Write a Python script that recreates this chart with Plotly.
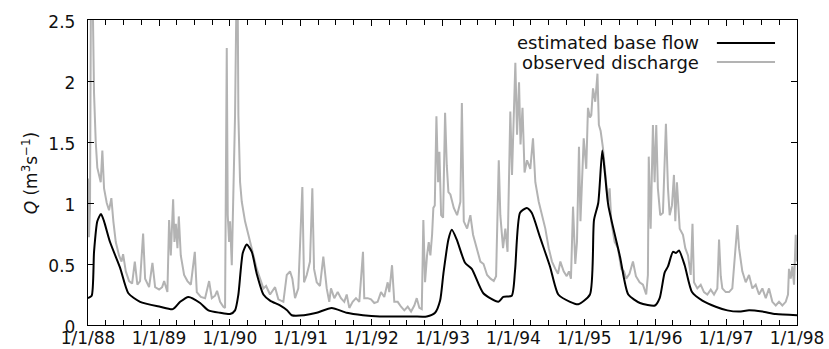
import pandas as pd
import plotly.graph_objects as go

# Observed discharge, Q in m3/s, sampled at decimal-year times
obs_t = [
    1988.000, 1988.014, 1988.028, 1988.042, 1988.063, 1988.085, 1988.109, 1988.131, 1988.179, 1988.202,
    1988.226, 1988.264, 1988.296, 1988.329, 1988.357, 1988.391, 1988.437, 1988.472, 1988.494, 1988.532,
    1988.578, 1988.621, 1988.659, 1988.695, 1988.733, 1988.776, 1988.804, 1988.860, 1988.907, 1988.945,
    1989.001, 1989.044, 1989.072, 1989.118, 1989.142, 1989.166, 1989.199, 1989.217, 1989.237, 1989.260,
    1989.279, 1989.307, 1989.354, 1989.401, 1989.449, 1989.505, 1989.533, 1989.590, 1989.650, 1989.707,
    1989.745, 1989.791, 1989.819, 1989.862, 1989.908, 1989.932, 1989.956, 1989.970, 1989.989, 1990.003,
    1990.027, 1990.049, 1990.073, 1990.095, 1990.109, 1990.120, 1990.144, 1990.168, 1990.214, 1990.261,
    1990.309, 1990.379, 1990.426, 1990.473, 1990.511, 1990.567, 1990.638, 1990.684, 1990.755, 1990.803,
    1990.849, 1990.882, 1990.920, 1990.966, 1991.023, 1991.047, 1991.085, 1991.131, 1991.164, 1991.188,
    1991.226, 1991.272, 1991.319, 1991.367, 1991.403, 1991.427, 1991.474, 1991.522, 1991.568, 1991.615,
    1991.649, 1991.686, 1991.733, 1991.780, 1991.827, 1991.879, 1991.897, 1991.945, 1991.992, 1992.038,
    1992.086, 1992.133, 1992.179, 1992.227, 1992.250, 1992.288, 1992.320, 1992.368, 1992.415, 1992.461,
    1992.509, 1992.556, 1992.602, 1992.636, 1992.673, 1992.707, 1992.729, 1992.753, 1992.781, 1992.805,
    1992.828, 1992.852, 1992.870, 1992.890, 1992.913, 1992.937, 1992.955, 1992.979, 1993.007, 1993.035,
    1993.059, 1993.082, 1993.110, 1993.158, 1993.205, 1993.251, 1993.272, 1993.299, 1993.346, 1993.392,
    1993.430, 1993.487, 1993.533, 1993.578, 1993.628, 1993.677, 1993.722, 1993.755, 1993.779, 1993.793,
    1993.815, 1993.853, 1993.886, 1993.917, 1993.956, 1993.980, 1994.027, 1994.051, 1994.079, 1994.100,
    1994.128, 1994.157, 1994.192, 1994.238, 1994.276, 1994.309, 1994.357, 1994.403, 1994.450, 1994.498,
    1994.544, 1994.591, 1994.629, 1994.662, 1994.709, 1994.752, 1994.784, 1994.812, 1994.841, 1994.873,
    1994.897, 1994.925, 1994.946, 1994.992, 1995.028, 1995.052, 1995.080, 1995.099, 1995.123, 1995.155,
    1995.186, 1995.206, 1995.231, 1995.264, 1995.296, 1995.334, 1995.358, 1995.381, 1995.429, 1995.475,
    1995.522, 1995.560, 1995.592, 1995.638, 1995.687, 1995.729, 1995.781, 1995.828, 1995.874, 1995.898,
    1995.910, 1995.937, 1995.969, 1995.993, 1996.016, 1996.039, 1996.072, 1996.110, 1996.152, 1996.181,
    1996.205, 1996.237, 1996.265, 1996.284, 1996.307, 1996.346, 1996.392, 1996.425, 1996.463, 1996.501,
    1996.526, 1996.547, 1996.594, 1996.642, 1996.688, 1996.735, 1996.783, 1996.829, 1996.876, 1996.900,
    1996.924, 1996.946, 1996.994, 1997.041, 1997.087, 1997.135, 1997.158, 1997.182, 1997.228, 1997.276,
    1997.323, 1997.370, 1997.417, 1997.464, 1997.511, 1997.559, 1997.605, 1997.652, 1997.700, 1997.746,
    1997.793, 1997.841, 1997.873, 1997.887, 1997.911, 1997.934, 1997.958, 1997.982, 1998.000,
]
obs_q = [
    1.20, 0.72, 0.95, 2.80, 2.80, 1.90, 1.50, 1.29, 1.17, 1.43,
    1.12, 1.00, 0.94, 1.04, 0.85, 0.68, 0.57, 0.52, 0.58, 0.44,
    0.36, 0.34, 0.52, 0.33, 0.36, 0.75, 0.38, 0.31, 0.51, 0.31,
    0.29, 0.31, 0.36, 0.27, 0.86, 0.57, 1.03, 0.68, 0.83, 0.63,
    0.89, 0.57, 0.41, 0.36, 0.33, 0.60, 0.27, 0.23, 0.22, 0.36,
    0.22, 0.24, 0.28, 0.19, 0.15, 0.14, 2.27, 0.90, 0.68, 0.85,
    0.49, 1.01, 1.72, 2.80, 2.80, 1.72, 1.17, 1.01, 0.85, 0.74,
    0.63, 0.46, 0.38, 0.30, 0.32, 0.25, 0.31, 0.21, 0.19, 0.41,
    0.44, 0.38, 0.22, 0.30, 1.13, 0.35, 0.41, 0.52, 1.12, 0.46,
    0.35, 0.32, 0.56, 0.30, 0.19, 0.30, 0.22, 0.27, 0.22, 0.19,
    0.25, 0.14, 0.19, 0.22, 0.19, 0.60, 0.22, 0.22, 0.21, 0.18,
    0.19, 0.27, 0.23, 0.35, 0.27, 0.49, 0.19, 0.19, 0.15, 0.12,
    0.15, 0.11, 0.16, 0.22, 0.14, 0.13, 0.86, 0.35, 0.57, 0.68,
    0.57, 0.74, 0.96, 0.98, 1.71, 1.17, 1.42, 0.90, 0.88, 1.74,
    1.31, 1.09, 1.07, 0.96, 0.90, 1.01, 1.82, 0.85, 0.79, 0.90,
    0.74, 0.63, 0.52, 0.50, 0.41, 0.38, 0.36, 0.40, 1.01, 1.35,
    0.90, 0.63, 0.79, 0.60, 1.75, 1.23, 2.15, 1.56, 1.99, 1.48,
    1.78, 1.25, 1.35, 1.28, 1.53, 1.17, 1.01, 0.90, 0.79, 0.63,
    0.52, 0.46, 0.42, 0.52, 0.44, 0.40, 0.44, 0.38, 0.97, 0.50,
    0.68, 1.46, 0.85, 1.53, 1.28, 1.78, 1.70, 1.72, 1.94, 1.83,
    2.06, 1.64, 1.59, 1.45, 1.23, 1.01, 1.12, 0.85, 0.68, 0.63,
    0.46, 0.44, 0.38, 0.42, 0.52, 0.40, 0.35, 0.33, 0.25, 0.41,
    1.38, 0.79, 1.64, 1.17, 1.64, 1.12, 0.90, 0.92, 1.65, 1.12,
    0.90, 0.98, 1.23, 0.85, 1.17, 0.79, 0.74, 0.63, 0.57, 0.41,
    0.83, 0.35, 0.30, 0.33, 0.27, 0.25, 0.29, 0.25, 0.30, 0.70,
    0.40, 0.30, 0.27, 0.27, 0.30, 0.63, 0.82, 0.63, 0.44, 0.35,
    0.41, 0.30, 0.33, 0.25, 0.30, 0.22, 0.30, 0.19, 0.16, 0.19,
    0.16, 0.19, 0.25, 0.46, 0.38, 0.48, 0.33, 0.74, 0.52,
]

# Estimated base flow, Q in m3/s
base_t = [
    1988.000, 1988.052, 1988.085, 1988.131, 1988.183, 1988.226, 1988.310, 1988.451, 1988.568, 1988.733,
    1989.015, 1989.195, 1989.298, 1989.415, 1989.580, 1989.697, 1989.862, 1990.003, 1990.073, 1990.120,
    1990.182, 1990.238, 1990.309, 1990.379, 1990.473, 1990.567, 1990.708, 1990.807, 1990.873, 1991.047,
    1991.226, 1991.437, 1991.649, 1991.879, 1992.118, 1992.584, 1992.777, 1992.894, 1992.965, 1993.011,
    1993.082, 1993.130, 1993.200, 1993.317, 1993.412, 1993.575, 1993.787, 1993.857, 1993.976, 1994.023,
    1994.093, 1994.188, 1994.258, 1994.375, 1994.516, 1994.633, 1994.799, 1994.915, 1995.080, 1995.137,
    1995.197, 1995.254, 1995.292, 1995.339, 1995.504, 1995.621, 1995.786, 1995.998, 1996.064, 1996.134,
    1996.181, 1996.251, 1996.293, 1996.336, 1996.416, 1996.519, 1996.665, 1996.853, 1997.017, 1997.182,
    1997.323, 1997.511, 1997.700, 1998.000,
]
base_q = [
    0.22, 0.24, 0.60, 0.85, 0.91, 0.85, 0.68, 0.47, 0.26, 0.19,
    0.15, 0.13, 0.19, 0.23, 0.18, 0.12, 0.10, 0.09, 0.12, 0.25,
    0.59, 0.66, 0.60, 0.42, 0.25, 0.20, 0.16, 0.12, 0.08, 0.08,
    0.10, 0.14, 0.10, 0.08, 0.07, 0.07, 0.07, 0.10, 0.20, 0.42,
    0.70, 0.78, 0.70, 0.51, 0.46, 0.26, 0.19, 0.23, 0.24, 0.45,
    0.92, 0.96, 0.92, 0.72, 0.48, 0.25, 0.19, 0.17, 0.25, 0.86,
    1.00, 1.43, 1.24, 0.98, 0.56, 0.25, 0.18, 0.16, 0.22, 0.43,
    0.48, 0.60, 0.59, 0.61, 0.49, 0.27, 0.20, 0.15, 0.12, 0.11,
    0.12, 0.11, 0.09, 0.08,
]

series_names = ["estimated base flow", "observed discharge"]
x_span = ["1988-01-01", "1998-01-01"]


def to_date(y):
    yr = int(y)
    start = pd.Timestamp(year=yr, month=1, day=1)
    n_days = 366 if pd.Timestamp(year=yr, month=12, day=31).dayofyear == 366 else 365
    return start + pd.Timedelta(days=(y - yr) * n_days)


obs_x = [to_date(v) for v in obs_t]
base_x = [to_date(v) for v in base_t]

FONT = "DejaVu Sans"
GRAY = "#b3b3b3"
INK = "#111111"

fig = go.Figure()
fig.add_trace(go.Scatter(x=obs_x, y=obs_q, mode="lines", name=series_names[1],
                         line=dict(color=GRAY, width=2), showlegend=False))
fig.add_trace(go.Scatter(x=base_x, y=base_q, mode="lines", name=series_names[0],
                         line=dict(color="black", width=2, shape="spline", smoothing=0.6),
                         showlegend=False))

fig.update_layout(
    width=829, height=349,
    margin=dict(l=88, r=32, t=20, b=24, autoexpand=False),
    paper_bgcolor="white", plot_bgcolor="white",
    font=dict(family=FONT, size=17, color=INK),
)
fig.update_xaxes(
    type="date", range=x_span, automargin=False,
    tick0="1988-01-01", dtick="M12", tickformat="%-m/%-d/%y",
    ticks="inside", ticklen=6, tickwidth=1.2, tickcolor="black",
    minor=dict(dtick="M3", ticks="inside", ticklen=5, tickwidth=1.2, tickcolor="black"),
    showline=True, linecolor="black", linewidth=1.4, mirror="ticks",
    showgrid=False, zeroline=False, ticklabelstandoff=-3,
)
fig.update_yaxes(
    range=[0, 2.5], dtick=0.5, tick0=0, automargin=False,
    ticks="inside", ticklen=6, tickwidth=1.2, tickcolor="black",
    showline=True, linecolor="black", linewidth=1.4, mirror="ticks",
    showgrid=False, zeroline=False, ticklabelstandoff=8, ticklabelshift=2,
)

# y-axis title
fig.add_annotation(xref="paper", yref="paper", x=-0.082, y=0.5, xanchor="center", yanchor="middle",
                   text="<i>Q</i> (m<sup>3</sup>s<sup>−1</sup>)", textangle=-90, showarrow=False,
                   font=dict(family=FONT, size=17, color=INK))

# legend: text right-aligned, sample line to the right
legend_rows = [(0.925, "black", series_names[0]), (0.862, GRAY, series_names[1])]
for y, col, label in legend_rows:
    fig.add_annotation(xref="paper", yref="paper", x=0.864, y=y, xanchor="right", yanchor="middle",
                       text=label, showarrow=False, font=dict(family=FONT, size=18, color=INK))
    fig.add_shape(type="line", xref="paper", yref="paper", x0=0.887, x1=0.969, y0=y, y1=y,
                  line=dict(color=col, width=2))

fig.write_html("out.html")
